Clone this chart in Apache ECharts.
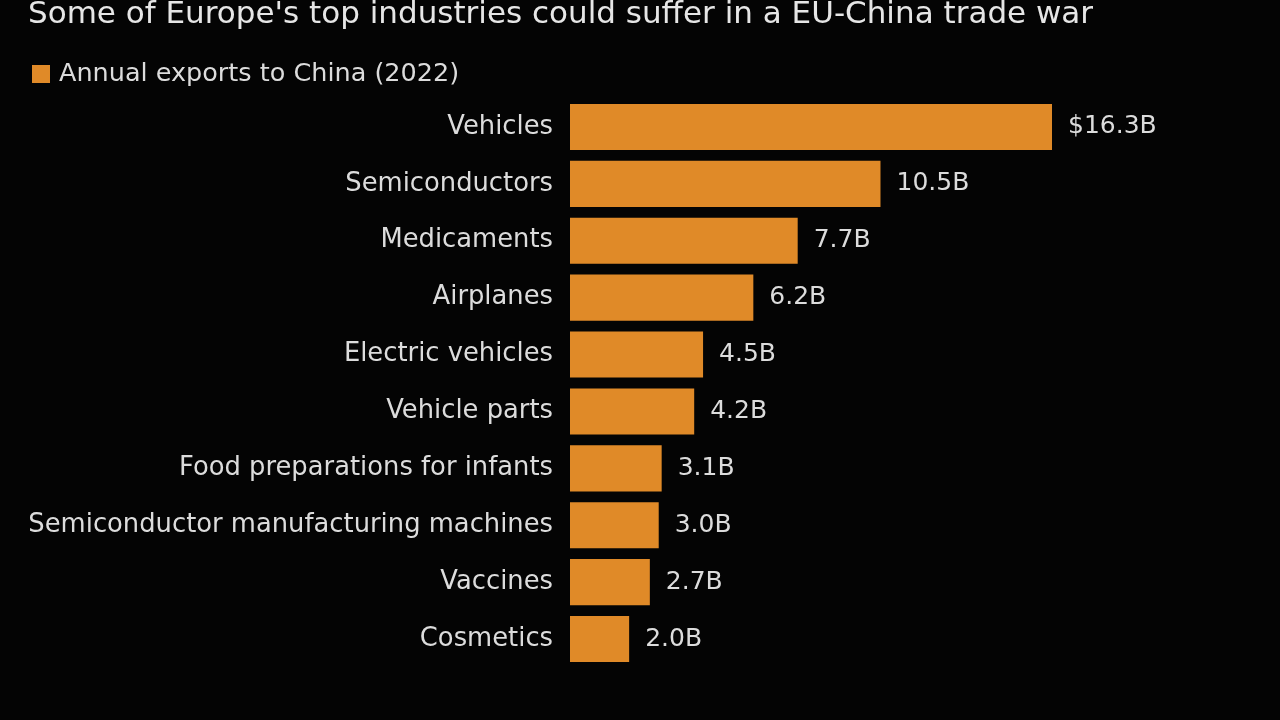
<!DOCTYPE html>
<html><head><meta charset="utf-8">
<script src="https://cdn.jsdelivr.net/npm/echarts@6/dist/echarts.min.js"></script>
<style>html,body{margin:0;padding:0;background:#040404;}#c{width:1280px;height:720px;}</style>
</head><body><div id="c"></div>
<script>
const categories = ["Vehicles","Semiconductors","Medicaments","Airplanes","Electric vehicles","Vehicle parts","Food preparations for infants","Semiconductor manufacturing machines","Vaccines","Cosmetics"];
const values = [16.3,10.5,7.7,6.2,4.5,4.2,3.1,3.0,2.7,2.0];
const titleText = "Some of Europe's top industries could suffer in a EU-China trade war";
const seriesName = "Annual exports to China (2022)";

const FONT = "DejaVu Sans";
const TXT = "#dcdcdc";
const chart = echarts.init(document.getElementById('c'));
chart.setOption({
  backgroundColor: "#040404",
  animation: false,
  title: {text: titleText, left: 23, top: -6, textStyle: {color: "#e6e6e6", fontFamily: FONT, fontWeight: "normal", fontSize: 31}},
  legend: {data: [seriesName], left: 27, top: 56, icon: "rect", itemWidth: 18, itemHeight: 18, itemGap: 8,
    textStyle: {color: TXT, fontFamily: FONT, fontSize: 25.5, padding: [0, 0, 0, 4]}},
  grid: {left: 570, top: 98.5, width: 482, height: 569, containLabel: false},
  xAxis: {type: "value", min: 0, max: 16.3, show: false},
  yAxis: {type: "category", data: categories, inverse: true,
    axisLine: {show: false}, axisTick: {show: false},
    axisLabel: {color: TXT, fontFamily: FONT, fontSize: 25.8, margin: 17}},
  series: [{name: seriesName, type: "bar", data: values, barCategoryGap: "19%",
    itemStyle: {color: "#E08A28"},
    label: {show: true, position: "right", distance: 16, color: TXT, fontFamily: FONT, fontSize: 25,
      formatter: p => (p.dataIndex === 0 ? "$" : "") + p.value.toFixed(1) + "B"}}]
});
</script></body></html>
